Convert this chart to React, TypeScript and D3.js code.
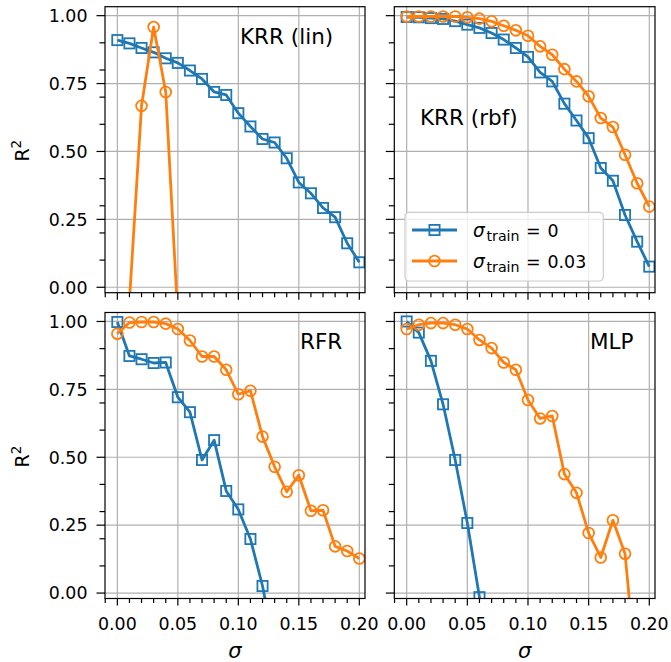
import React from 'react';
import * as d3 from 'd3';

// ---------- data ----------
const sigma = [0, 0.01, 0.02, 0.03, 0.04, 0.05, 0.06, 0.07, 0.08, 0.09, 0.1,
  0.11, 0.12, 0.13, 0.14, 0.15, 0.16, 0.17, 0.18, 0.19, 0.2];

const krrLin0 = [0.910, 0.898, 0.881, 0.865, 0.843, 0.826, 0.798, 0.767, 0.719, 0.708, 0.641,
  0.592, 0.546, 0.533, 0.475, 0.386, 0.346, 0.292, 0.258, 0.162, 0.092];
const krrLin003 = [-0.62, -0.05, 0.668, 0.958, 0.719, -0.11, -1.05, -2.1, -3.2, -4.1, -5.3,
  -6.2, -7.4, -8.1, -9.3, -10.2, -11.5, -12.3, -13.4, -14.6, -15.5];

const krrRbf0 = [0.995, 0.994, 0.991, 0.988, 0.980, 0.967, 0.955, 0.936, 0.912, 0.881, 0.848,
  0.791, 0.758, 0.676, 0.614, 0.549, 0.439, 0.392, 0.266, 0.168, 0.076];
const krrRbf003 = [0.997, 0.997, 0.997, 0.997, 0.997, 0.994, 0.989, 0.979, 0.963, 0.946, 0.926,
  0.887, 0.856, 0.803, 0.758, 0.703, 0.623, 0.590, 0.488, 0.383, 0.297];

const rfr0 = [0.998, 0.873, 0.861, 0.847, 0.849, 0.721, 0.666, 0.490, 0.563, 0.376, 0.308,
  0.199, 0.026, -0.20, -0.42, -0.61, -0.83, -1.02, -1.25, -1.43, -1.62];
const rfr003 = [0.955, 0.996, 0.998, 0.998, 0.992, 0.972, 0.930, 0.871, 0.871, 0.822, 0.732,
  0.745, 0.576, 0.465, 0.373, 0.434, 0.303, 0.305, 0.172, 0.155, 0.127];

const mlp0 = [1.000, 0.959, 0.855, 0.695, 0.490, 0.258, -0.015, -0.33, -0.68, -1.05, -1.47,
  -1.92, -2.40, -2.91, -3.45, -4.02, -4.61, -5.23, -5.88, -6.55, -7.24];
const mlp003 = [0.972, 0.988, 0.994, 0.994, 0.988, 0.972, 0.932, 0.902, 0.849, 0.822, 0.711,
  0.643, 0.652, 0.438, 0.369, 0.221, 0.131, 0.268, 0.145, -0.33, -0.80];

const panelTitles = ['KRR (lin)', 'KRR (rbf)', 'RFR', 'MLP'];
const seriesByPanel = [
  [krrLin0, krrLin003],
  [krrRbf0, krrRbf003],
  [rfr0, rfr003],
  [mlp0, mlp003],
];
const legendValues = ['0', '0.03'];

const xMajor = [0, 0.05, 0.1, 0.15, 0.2];
const xMajorLabels = ['0.00', '0.05', '0.10', '0.15', '0.20'];
const xMinor = [-0.01, 0.01, 0.02, 0.03, 0.04, 0.06, 0.07, 0.08, 0.09, 0.11, 0.12, 0.13, 0.14,
  0.16, 0.17, 0.18, 0.19];
const yMajor = [0, 0.25, 0.5, 0.75, 1];
const yMajorLabels = ['0.00', '0.25', '0.50', '0.75', '1.00'];
const yMinor = [0.1, 0.2, 0.3, 0.4, 0.6, 0.7, 0.8, 0.9];

// ---------- layout ----------
const W = 671, H = 662;
const cols = [{ x0: 105, x1: 365 }, { x0: 394.3, x1: 655 }];
const rows = [{ y0: 6.7, y1: 292.7 }, { y0: 312.5, y1: 598.5 }];
const xDomain = [-0.0102, 0.2047];
const yDomain = [-0.02, 1.033];
const titlePos = [
  { dx: 135, dy: 37.3 },
  { dx: 25.7, dy: 118.3 },
  { dx: 195, dy: 36.8 },
  { dx: 195.7, dy: 36.8 },
];
const COLORS = ['#1f77b4', '#ff7f0e'];
const FONT = 'DejaVu Sans, Verdana, sans-serif';
const TICK_FS = 17.4;
const LW = 2.8;
const SQ = 10.2;
const CR = 5.4;
const MEW = 1.8;

function Panel({ idx }: { idx: number }) {
  const r = Math.floor(idx / 2), c = idx % 2;
  const { x0, x1 } = cols[c];
  const { y0, y1 } = rows[r];
  const x = d3.scaleLinear().domain(xDomain).range([x0, x1]);
  const y = d3.scaleLinear().domain(yDomain).range([y1, y0]);
  const line = d3.line<number>().x((_, i) => x(sigma[i])).y((d) => y(d));
  const clipId = `clip${idx}`;
  const series = seriesByPanel[idx];
  return (
    <g>
      <defs>
        <clipPath id={clipId}>
          <rect x={x0} y={y0} width={x1 - x0} height={y1 - y0} />
        </clipPath>
      </defs>
      <rect x={x0} y={y0} width={x1 - x0} height={y1 - y0} fill="#fff" />
      {/* grid */}
      <g stroke="#b0b0b0" strokeWidth={1.2}>
        {xMajor.map((v) => (
          <line key={'gx' + v} x1={x(v)} x2={x(v)} y1={y0} y2={y1} />
        ))}
        {yMajor.map((v) => (
          <line key={'gy' + v} x1={x0} x2={x1} y1={y(v)} y2={y(v)} />
        ))}
      </g>
      {/* data */}
      <g clipPath={`url(#${clipId})`}>
        {series.map((vals, si) => (
          <g key={si}>
            <path d={line(vals) || ''} fill="none" stroke={COLORS[si]} strokeWidth={LW}
              strokeLinejoin="round" strokeLinecap="butt" />
            {vals.map((v, i) =>
              si === 0 ? (
                <rect key={i} x={x(sigma[i]) - SQ / 2} y={y(v) - SQ / 2} width={SQ} height={SQ}
                  fill="none" stroke={COLORS[si]} strokeWidth={MEW} />
              ) : (
                <circle key={i} cx={x(sigma[i])} cy={y(v)} r={CR}
                  fill="none" stroke={COLORS[si]} strokeWidth={MEW} />
              )
            )}
          </g>
        ))}
      </g>
      {/* frame */}
      <rect x={x0} y={y0} width={x1 - x0} height={y1 - y0} fill="none" stroke="#000" strokeWidth={1.2} />
      {/* ticks */}
      <g stroke="#000" strokeWidth={1.2}>
        {xMajor.map((v) => (
          <line key={'tx' + v} x1={x(v)} x2={x(v)} y1={y1} y2={y1 + 7} />
        ))}
        {xMinor.map((v) => (
          <line key={'mx' + v} x1={x(v)} x2={x(v)} y1={y1} y2={y1 + 4.5} />
        ))}
        {yMajor.map((v) => (
          <line key={'ty' + v} x1={x0} x2={x0 - 8.5} y1={y(v)} y2={y(v)} />
        ))}
        {yMinor.map((v) => (
          <line key={'my' + v} x1={x0} x2={x0 - 5.5} y1={y(v)} y2={y(v)} />
        ))}
      </g>
      {r === 1 &&
        xMajor.map((v, i) => (
          <text key={'lx' + v} x={x(v)} y={y1 + 31.5} textAnchor="middle" fontSize={TICK_FS}
            fontFamily={FONT} fill="#000">{xMajorLabels[i]}</text>
        ))}
      {c === 0 &&
        yMajor.map((v, i) => (
          <text key={'ly' + v} x={x0 - 17.5} y={y(v) + 6.3} textAnchor="end" fontSize={TICK_FS}
            fontFamily={FONT} fill="#000">{yMajorLabels[i]}</text>
        ))}
      <text x={x0 + titlePos[idx].dx} y={y0 + titlePos[idx].dy} fontSize={21.5} fontFamily={FONT}
        fill="#000">{panelTitles[idx]}</text>
      {c === 0 && (
        <text transform={`translate(29,${(y0 + y1) / 2 + 1}) rotate(-90)`} textAnchor="middle"
          fontSize={19} fontFamily={FONT} fill="#000">
          R<tspan fontSize={13.5} dy={-8}>2</tspan>
        </text>
      )}
      {r === 1 && (
        <text x={(x0 + x1) / 2} y={658} textAnchor="middle" fontSize={21} fontStyle="italic"
          fontFamily={FONT} fill="#000">σ</text>
      )}
    </g>
  );
}

function Legend() {
  const bx = 405, by = 212.3, bw = 198.3, bh = 68.7;
  const rowsY = [230, 261];
  return (
    <g>
      <rect x={bx} y={by} width={bw} height={bh} rx={4} ry={4} fill="#fff" fillOpacity={0.8}
        stroke="#cccccc" strokeWidth={1.2} />
      {legendValues.map((val, i) => (
        <g key={val}>
          <line x1={412} x2={457} y1={rowsY[i]} y2={rowsY[i]} stroke={COLORS[i]} strokeWidth={LW} />
          {i === 0 ? (
            <rect x={434.5 - SQ / 2} y={rowsY[i] - SQ / 2} width={SQ} height={SQ} fill="none"
              stroke={COLORS[i]} strokeWidth={MEW} />
          ) : (
            <circle cx={434.5} cy={rowsY[i]} r={CR} fill="none" stroke={COLORS[i]} strokeWidth={MEW} />
          )}
          <text x={473} y={rowsY[i] + 7.3} fontSize={18.5} fontFamily={FONT} fontStyle="italic"
            fill="#000">σ</text>
          <text x={486.5} y={rowsY[i] + 10.5} fontSize={14.2} fontFamily={FONT} fill="#000">train</text>
          <text x={526} y={rowsY[i] + 7.3} fontSize={TICK_FS} fontFamily={FONT} fill="#000">=</text>
          <text x={547.5} y={rowsY[i] + 7.3} fontSize={TICK_FS} fontFamily={FONT} fill="#000">{val}</text>
        </g>
      ))}
    </g>
  );
}

export default function App() {
  return (
    <svg width={W} height={H} viewBox={`0 0 ${W} ${H}`}
      style={{ position: 'absolute', left: 0, top: 0, background: '#fff' }}>
      <rect x={0} y={0} width={W} height={H} fill="#fff" />
      {[0, 1, 2, 3].map((i) => (
        <Panel key={i} idx={i} />
      ))}
      <Legend />
    </svg>
  );
}
